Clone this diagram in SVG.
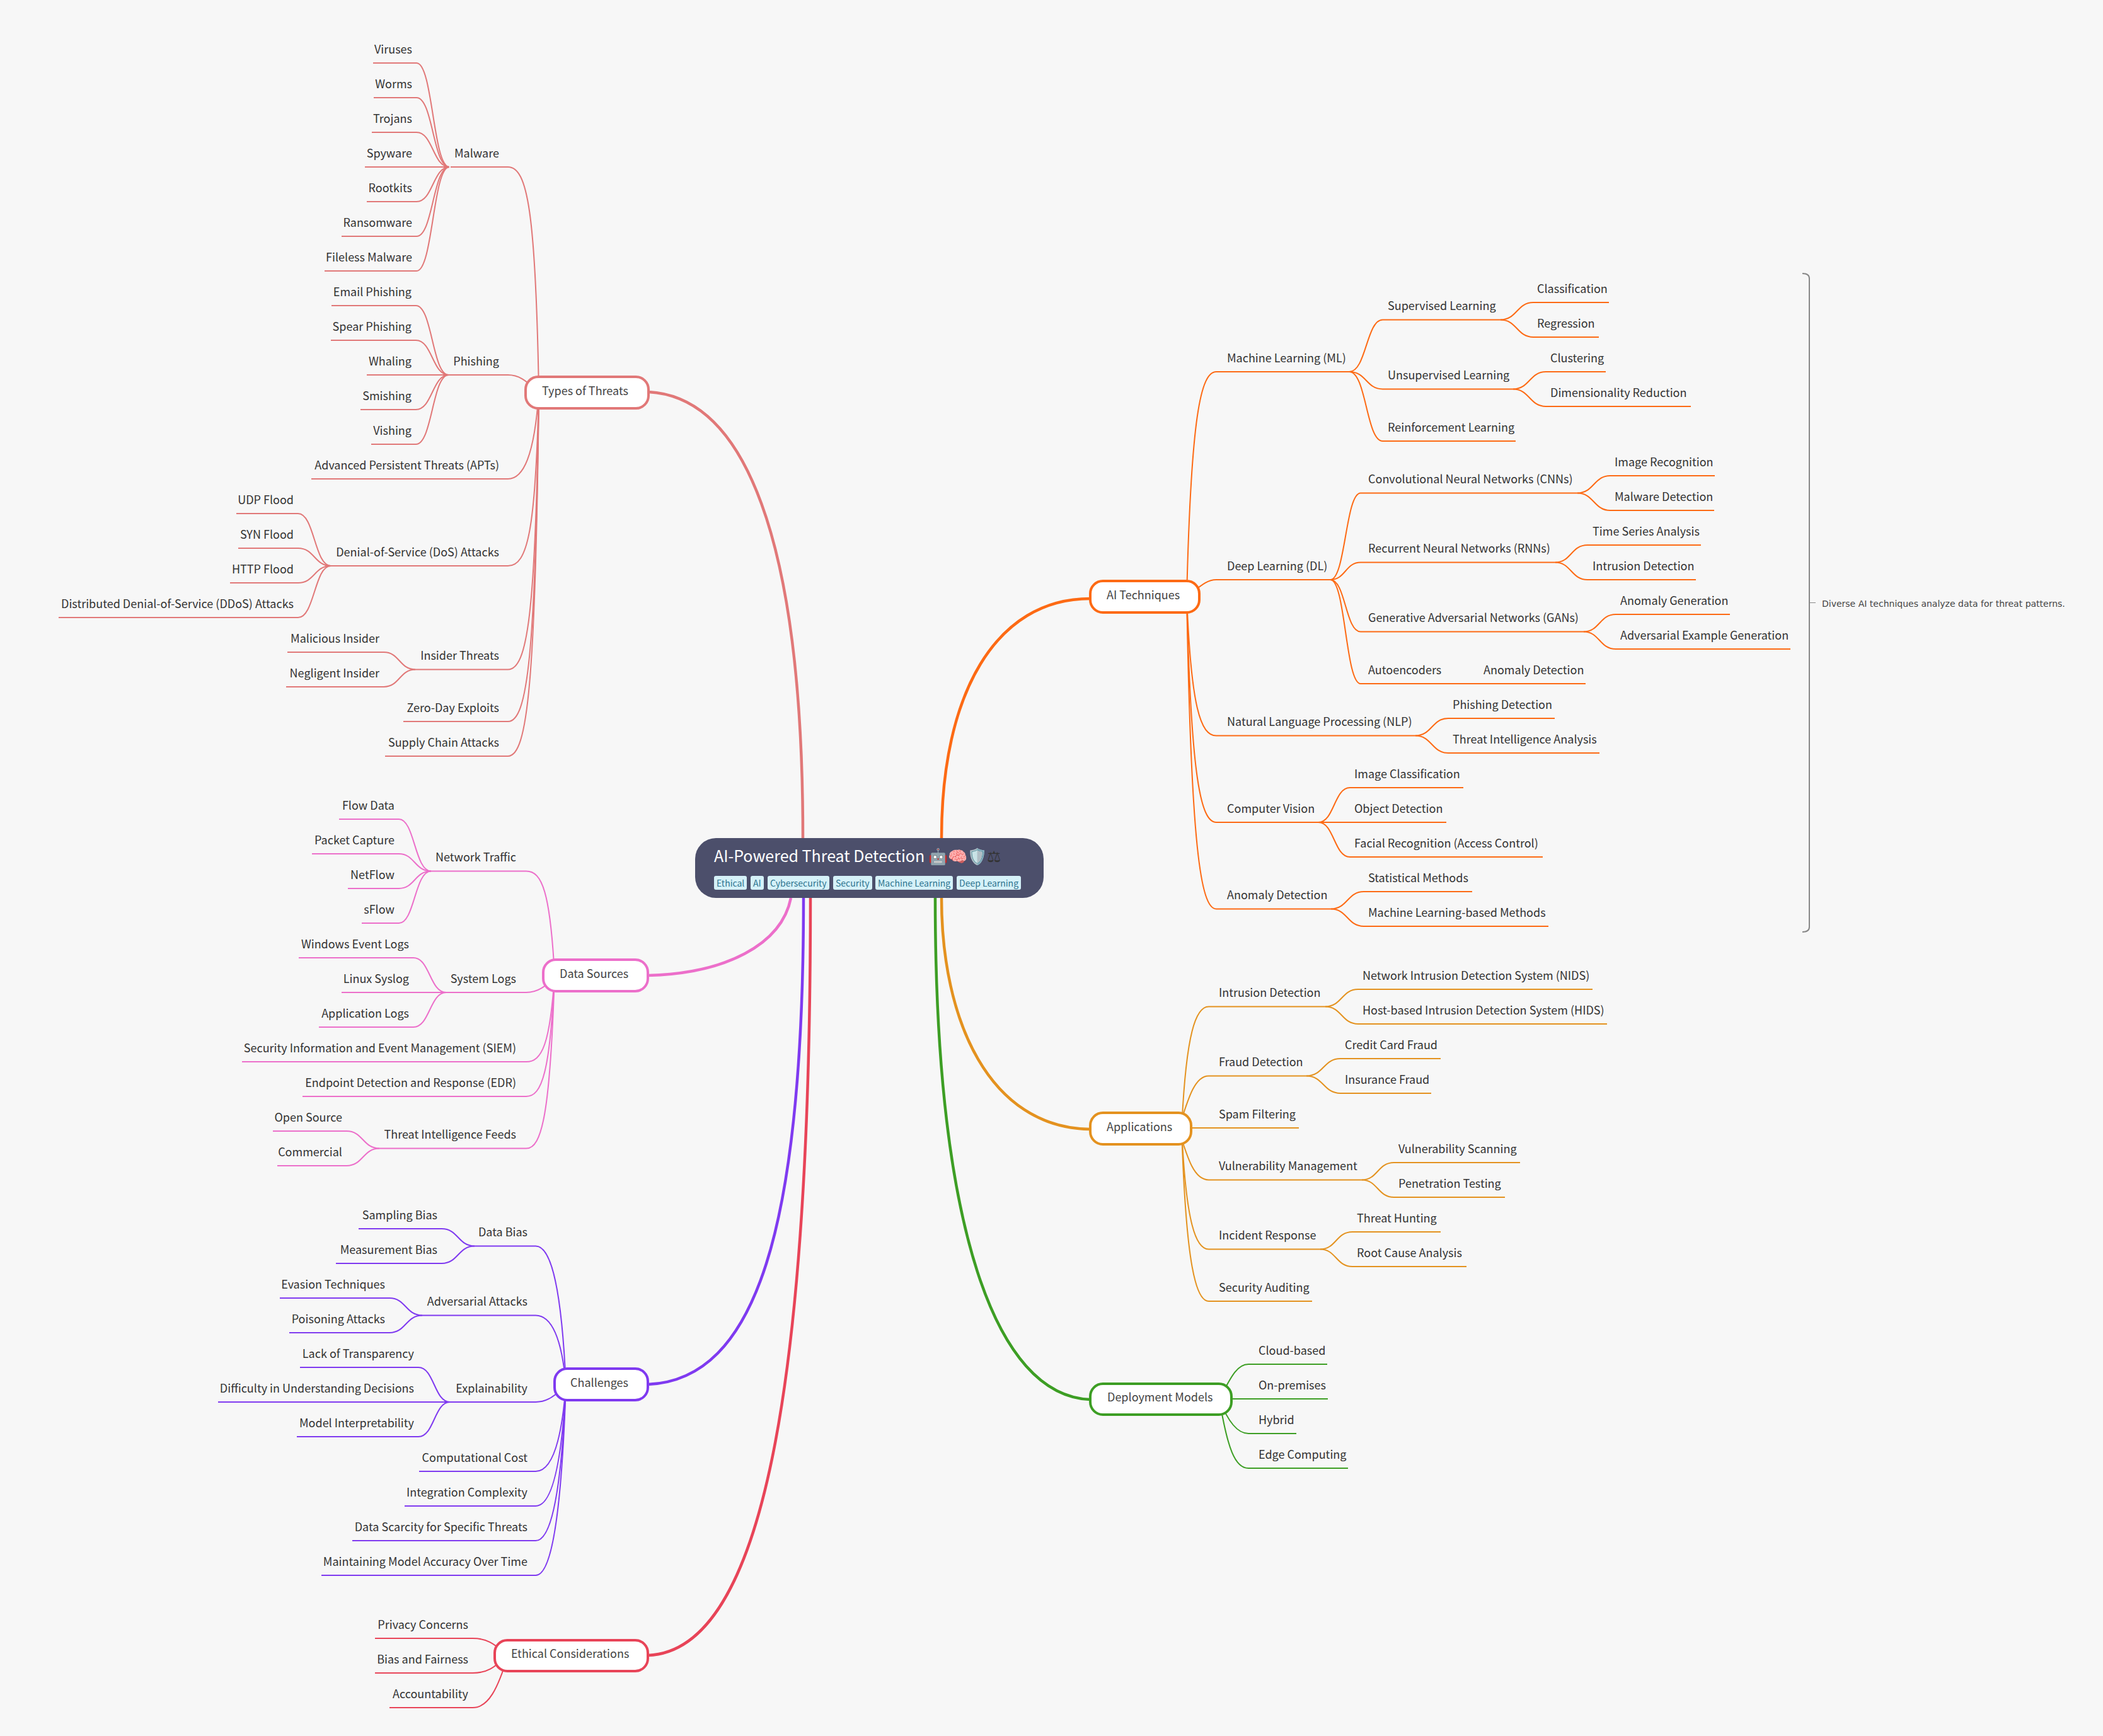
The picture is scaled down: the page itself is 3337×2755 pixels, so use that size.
<svg xmlns="http://www.w3.org/2000/svg" width="3337" height="2755" viewBox="0 0 3337 2755">
<style>
text{font-family:"Noto Sans CJK SC","Noto Sans",sans-serif;font-size:18px;fill:#333}
.l{text-anchor:end}
.k{fill:#444}
path{fill:none;stroke-width:2}
.m{stroke-width:4.500}
.r1{stroke:#e17878}.r2{stroke:#ec6fca}.r3{stroke:#7f3af0}.r4{stroke:#e84458}.r5{stroke:#fd6a14}.r6{stroke:#e4921f}.r7{stroke:#3d9e24}
.b{fill:#fff;stroke-width:4}
.tag{fill:#d5f1f8}
.tt{font-size:14px;fill:#2e7590}
</style>
<rect width="3337" height="2755" fill="#f7f7f7"/>
<g id="connectors">
<g id="main">
<path class="m r1" d="M1029 622C1180 630 1274 850 1274 1330"/>
<path class="m r2" d="M1028 1548C1150 1545 1240 1500 1255 1425"/>
<path class="m r3" d="M1028 2197C1200 2190 1275 1950 1275 1425"/>
<path class="m r4" d="M1028 2627C1210 2620 1286 2200 1286 1425"/>
<path class="m r5" d="M1730 950C1580 950 1494 1100 1494 1330"/>
<path class="m r6" d="M1730 1792C1570 1790 1494 1620 1494 1425"/>
<path class="m r7" d="M1730 2221C1580 2215 1484 1950 1484 1425"/>
</g>
<g class="r1">
<path d="M715 265H806C837 265 850 336 855 622"/>
<path d="M712 595H806C825 595 835 605 855 622"/>
<path d="M494 760H806C830 760 848 725 855 622"/>
<path d="M525 898H806C837 898 850 843 855 622"/>
<path d="M659 1062.500H806C837 1062.500 850 974 855 622"/>
<path d="M640 1145H806C837 1145 850 1040 855 622"/>
<path d="M611 1200H806C837 1200 850 1084 855 622"/>
<path d="M592 100H661C687 100 687 265 713 265"/>
<path d="M593 155H661C687 155 687 265 713 265"/>
<path d="M590 210H661C687 210 687 265 713 265"/>
<path d="M579 265H713"/>
<path d="M582 320H661C687 320 687 265 713 265"/>
<path d="M542 375H661C687 375 687 265 713 265"/>
<path d="M515 430H661C687 430 687 265 713 265"/>
<path d="M526 485H660C686 485 686 595 712 595"/>
<path d="M525 540H660C686 540 686 595 712 595"/>
<path d="M582 595H712"/>
<path d="M572 650H660C686 650 686 595 712 595"/>
<path d="M589 705H660C686 705 686 595 712 595"/>
<path d="M375 815H473C499 815 499 898 525 898"/>
<path d="M378 870H473C499 870 499 898 525 898"/>
<path d="M365 925H473C499 925 499 898 525 898"/>
<path d="M93 980H473C499 980 499 898 525 898"/>
<path d="M456 1035H609C634 1035 634 1062.500 659 1062.500"/>
<path d="M454 1090H609C634 1090 634 1062.500 659 1062.500"/>
</g>
<g class="r2">
<path d="M684 1382.500H835C860 1382.500 873 1415 880 1547"/>
<path d="M708 1575H835C855 1575 865 1565 885 1547"/>
<path d="M384 1685H835C860 1685 873 1657 880 1547"/>
<path d="M480 1740H835C860 1740 873 1701 880 1547"/>
<path d="M602 1822.500H835C860 1822.500 873 1767 880 1547"/>
<path d="M538 1300H633C658 1300 658 1382.500 684 1382.500"/>
<path d="M495 1355H633C658 1355 658 1382.500 684 1382.500"/>
<path d="M552 1410H633C658 1410 658 1382.500 684 1382.500"/>
<path d="M574 1465H633C658 1465 658 1382.500 684 1382.500"/>
<path d="M474 1520H656C682 1520 682 1575 708 1575"/>
<path d="M542 1575H708"/>
<path d="M506 1630H656C682 1630 682 1575 708 1575"/>
<path d="M433 1795H550C576 1795 576 1822.500 602 1822.500"/>
<path d="M440 1850H550C576 1850 576 1822.500 602 1822.500"/>
</g>
<g class="r3">
<path d="M753 1977.500H850C870 1977.500 890 2021 898 2197"/>
<path d="M670 2087.500H850C870 2087.500 890 2109 898 2197"/>
<path d="M714 2225H850C868 2225 875 2218 903 2197"/>
<path d="M665 2335H850C870 2335 890 2307 898 2197"/>
<path d="M642 2390H850C870 2390 890 2351 898 2197"/>
<path d="M559 2445H850C870 2445 890 2395 898 2197"/>
<path d="M510 2500H850C870 2500 890 2440 898 2197"/>
<path d="M569 1950H701C727 1950 727 1977.500 753 1977.500"/>
<path d="M533 2005H701C727 2005 727 1977.500 753 1977.500"/>
<path d="M444 2060H618C644 2060 644 2087.500 670 2087.500"/>
<path d="M459 2115H618C644 2115 644 2087.500 670 2087.500"/>
<path d="M476 2170H664C689 2170 689 2225 714 2225"/>
<path d="M346 2225H714"/>
<path d="M471 2280H664C689 2280 689 2225 714 2225"/>
</g>
<g class="r4">
<path d="M595 2600H750C775 2600 785 2610 806 2627"/>
<path d="M595 2655H750C775 2655 785 2645 806 2627"/>
<path d="M618 2710H750C775 2710 790 2680 806 2627"/>
</g>
<g class="r5">
<path d="M2141 590H1930C1905 590 1890 661 1883 947"/>
<path d="M2111 920H1930C1915 920 1905 930 1883 947"/>
<path d="M2246 1167.500H1930C1905 1167.500 1890 1123 1883 947"/>
<path d="M2092 1305H1930C1905 1305 1890 1233 1883 947"/>
<path d="M2112 1442.500H1930C1905 1442.500 1890 1343 1883 947"/>
<path d="M2381 507.500H2194C2168 507.500 2168 590 2141 590"/>
<path d="M2401 617.500H2194C2168 617.500 2168 590 2141 590"/>
<path d="M2405 700H2194C2168 700 2168 590 2141 590"/>
<path d="M2553 480H2433C2407 480 2407 507.500 2381 507.500"/>
<path d="M2537 535H2433C2407 535 2407 507.500 2381 507.500"/>
<path d="M2548 590H2453C2427 590 2427 617.500 2401 617.500"/>
<path d="M2683 645H2453C2427 645 2427 617.500 2401 617.500"/>
<path d="M2503 782.500H2159C2135 782.500 2135 920 2111 920"/>
<path d="M2468 892.500H2159C2135 892.500 2135 920 2111 920"/>
<path d="M2513 1002.500H2159C2135 1002.500 2135 920 2111 920"/>
<path d="M2516 1085H2159C2135 1085 2135 920 2111 920"/>
<path d="M2721 755H2555C2529 755 2529 782.500 2503 782.500"/>
<path d="M2720 810H2555C2529 810 2529 782.500 2503 782.500"/>
<path d="M2699 865H2519C2493 865 2493 892.500 2468 892.500"/>
<path d="M2691 920H2519C2493 920 2493 892.500 2468 892.500"/>
<path d="M2745 975H2564C2538 975 2538 1002.500 2513 1002.500"/>
<path d="M2841 1030H2564C2538 1030 2538 1002.500 2513 1002.500"/>
<path d="M2467 1140H2298C2272 1140 2272 1167.500 2246 1167.500"/>
<path d="M2538 1195H2298C2272 1195 2272 1167.500 2246 1167.500"/>
<path d="M2322 1250H2142C2117 1250 2117 1305 2092 1305"/>
<path d="M2295 1305H2092"/>
<path d="M2448 1360H2142C2117 1360 2117 1305 2092 1305"/>
<path d="M2336 1415H2164C2138 1415 2138 1442.500 2112 1442.500"/>
<path d="M2457 1470H2164C2138 1470 2138 1442.500 2112 1442.500"/>
</g>
<g class="r6">
<path d="M2103 1597.500H1918C1898 1597.500 1882 1636 1875 1792"/>
<path d="M2073 1707.500H1918C1895 1707.500 1885 1745 1870 1792"/>
<path d="M2061 1790H1875"/>
<path d="M2161 1872.500H1918C1895 1872.500 1885 1840 1870 1792"/>
<path d="M2095 1982.500H1918C1898 1982.500 1882 1944 1875 1792"/>
<path d="M2082 2065H1918C1898 2065 1882 2010 1875 1792"/>
<path d="M2527 1570H2155C2129 1570 2129 1597.500 2103 1597.500"/>
<path d="M2550 1625H2155C2129 1625 2129 1597.500 2103 1597.500"/>
<path d="M2286 1680H2127C2100 1680 2100 1707.500 2073 1707.500"/>
<path d="M2271 1735H2127C2100 1735 2100 1707.500 2073 1707.500"/>
<path d="M2412 1845H2212C2186 1845 2186 1872.500 2161 1872.500"/>
<path d="M2388 1900H2212C2186 1900 2186 1872.500 2161 1872.500"/>
<path d="M2286 1955H2146C2120 1955 2120 1982.500 2095 1982.500"/>
<path d="M2327 2010H2146C2120 2010 2120 1982.500 2095 1982.500"/>
</g>
<g class="r7">
<path d="M2106 2165H1981C1965 2165 1955 2180 1935 2221"/>
<path d="M2107 2220H1935"/>
<path d="M2057 2275H1981C1965 2275 1950 2260 1935 2221"/>
<path d="M2139 2330H1981C1960 2330 1948 2300 1935 2221"/>
</g>
</g>
<g id="note">
<path d="M2860 434C2868 434 2871 437 2871 442V1471C2871 1476 2868 1479 2860 1479" stroke="#888"/>
<path d="M2871 956.500H2881" stroke="#888" style="stroke-width:1"/>
<text x="2891" y="963" style="font-family:'DejaVu Sans',sans-serif;font-size:14px;fill:#444">Diverse AI techniques analyze data for threat patterns.</text>
</g>
<g id="center">
<rect x="1103" y="1330" width="553" height="95" rx="33" fill="#4c4f6b"/>
<text x="1133" y="1368" style="font-size:25px;fill:#fff">AI-Powered Threat Detection 🤖🧠🛡️<tspan fill="#333">⚖</tspan></text>
<g id="tags">
<rect class="tag" x="1133" y="1390" width="52" height="22" rx="3"/><text class="tt" x="1137" y="1407">Ethical</text>
<rect class="tag" x="1191" y="1390" width="21" height="22" rx="3"/><text class="tt" x="1195" y="1407">AI</text>
<rect class="tag" x="1218" y="1390" width="98" height="22" rx="3"/><text class="tt" x="1222" y="1407">Cybersecurity</text>
<rect class="tag" x="1322" y="1390" width="62" height="22" rx="3"/><text class="tt" x="1326" y="1407">Security</text>
<rect class="tag" x="1389" y="1390" width="123" height="22" rx="3"/><text class="tt" x="1393" y="1407">Machine Learning</text>
<rect class="tag" x="1518" y="1390" width="102" height="22" rx="3"/><text class="tt" x="1522" y="1407">Deep Learning</text>
</g>
</g>
<g id="types"><rect class="b r1" x="834" y="598" width="195" height="50" rx="20"/><text class="k" x="860" y="627">Types of Threats</text></g>
<g id="data"><rect class="b r2" x="862" y="1523" width="166" height="50" rx="20"/><text class="k" x="888" y="1552">Data Sources</text></g>
<g id="challenges"><rect class="b r3" x="880" y="2172" width="148" height="50" rx="20"/><text class="k" x="905" y="2201">Challenges</text></g>
<g id="ethical"><rect class="b r4" x="785" y="2603" width="243" height="49" rx="20"/><text class="k" x="811" y="2631">Ethical Considerations</text></g>
<g id="ai"><rect class="b r5" x="1730" y="922" width="173" height="50" rx="20"/><text class="k" x="1756" y="951">AI Techniques</text></g>
<g id="apps"><rect class="b r6" x="1730" y="1766" width="160" height="50" rx="20"/><text class="k" x="1756" y="1795">Applications</text></g>
<g id="deploy"><rect class="b r7" x="1730" y="2196" width="224" height="49" rx="20"/><text class="k" x="1757" y="2224">Deployment Models</text></g>
<g id="labels-left" transform="translate(0,-1)">
<g id="n1"><text class="l" x="792" y="251">Malware</text></g>
<g id="n2"><text class="l" x="654" y="86">Viruses</text></g>
<g id="n3"><text class="l" x="654" y="141">Worms</text></g>
<g id="n4"><text class="l" x="654" y="196">Trojans</text></g>
<g id="n5"><text class="l" x="654" y="251">Spyware</text></g>
<g id="n6"><text class="l" x="654" y="306">Rootkits</text></g>
<g id="n7"><text class="l" x="654" y="361">Ransomware</text></g>
<g id="n8"><text class="l" x="654" y="416">Fileless Malware</text></g>
<g id="n9"><text class="l" x="792" y="581">Phishing</text></g>
<g id="n10"><text class="l" x="653" y="471">Email Phishing</text></g>
<g id="n11"><text class="l" x="653" y="526">Spear Phishing</text></g>
<g id="n12"><text class="l" x="653" y="581">Whaling</text></g>
<g id="n13"><text class="l" x="653" y="636">Smishing</text></g>
<g id="n14"><text class="l" x="653" y="691">Vishing</text></g>
<g id="n15"><text class="l" x="792" y="746">Advanced Persistent Threats (APTs)</text></g>
<g id="n16"><text class="l" x="792" y="884">Denial-of-Service (DoS) Attacks</text></g>
<g id="n17"><text class="l" x="466" y="801">UDP Flood</text></g>
<g id="n18"><text class="l" x="466" y="856">SYN Flood</text></g>
<g id="n19"><text class="l" x="466" y="911">HTTP Flood</text></g>
<g id="n20"><text class="l" x="466" y="966">Distributed Denial-of-Service (DDoS) Attacks</text></g>
<g id="n21"><text class="l" x="792" y="1048">Insider Threats</text></g>
<g id="n22"><text class="l" x="602" y="1021">Malicious Insider</text></g>
<g id="n23"><text class="l" x="602" y="1076">Negligent Insider</text></g>
<g id="n24"><text class="l" x="792" y="1131">Zero-Day Exploits</text></g>
<g id="n25"><text class="l" x="792" y="1186">Supply Chain Attacks</text></g>
<g id="n26"><text class="l" x="819" y="1368">Network Traffic</text></g>
<g id="n27"><text class="l" x="626" y="1286">Flow Data</text></g>
<g id="n28"><text class="l" x="626" y="1341">Packet Capture</text></g>
<g id="n29"><text class="l" x="626" y="1396">NetFlow</text></g>
<g id="n30"><text class="l" x="626" y="1451">sFlow</text></g>
<g id="n31"><text class="l" x="819" y="1561">System Logs</text></g>
<g id="n32"><text class="l" x="649" y="1506">Windows Event Logs</text></g>
<g id="n33"><text class="l" x="649" y="1561">Linux Syslog</text></g>
<g id="n34"><text class="l" x="649" y="1616">Application Logs</text></g>
<g id="n35"><text class="l" x="819" y="1671">Security Information and Event Management (SIEM)</text></g>
<g id="n36"><text class="l" x="819" y="1726">Endpoint Detection and Response (EDR)</text></g>
<g id="n37"><text class="l" x="819" y="1808">Threat Intelligence Feeds</text></g>
<g id="n38"><text class="l" x="543" y="1781">Open Source</text></g>
<g id="n39"><text class="l" x="543" y="1836">Commercial</text></g>
<g id="n40"><text class="l" x="837" y="1963">Data Bias</text></g>
<g id="n41"><text class="l" x="694" y="1936">Sampling Bias</text></g>
<g id="n42"><text class="l" x="694" y="1991">Measurement Bias</text></g>
<g id="n43"><text class="l" x="837" y="2073">Adversarial Attacks</text></g>
<g id="n44"><text class="l" x="611" y="2046">Evasion Techniques</text></g>
<g id="n45"><text class="l" x="611" y="2101">Poisoning Attacks</text></g>
<g id="n46"><text class="l" x="837" y="2211">Explainability</text></g>
<g id="n47"><text class="l" x="657" y="2156">Lack of Transparency</text></g>
<g id="n48"><text class="l" x="657" y="2211">Difficulty in Understanding Decisions</text></g>
<g id="n49"><text class="l" x="657" y="2266">Model Interpretability</text></g>
<g id="n50"><text class="l" x="837" y="2321">Computational Cost</text></g>
<g id="n51"><text class="l" x="837" y="2376">Integration Complexity</text></g>
<g id="n52"><text class="l" x="837" y="2431">Data Scarcity for Specific Threats</text></g>
<g id="n53"><text class="l" x="837" y="2486">Maintaining Model Accuracy Over Time</text></g>
<g id="n54"><text class="l" x="743" y="2586">Privacy Concerns</text></g>
<g id="n55"><text class="l" x="743" y="2641">Bias and Fairness</text></g>
<g id="n56"><text class="l" x="743" y="2696">Accountability</text></g>
</g>
<g id="labels-right" transform="translate(0,-1)">
<g id="n57"><text x="1947" y="576">Machine Learning (ML)</text></g>
<g id="n58"><text x="2202" y="493">Supervised Learning</text></g>
<g id="n59"><text x="2439" y="466">Classification</text></g>
<g id="n60"><text x="2439" y="521">Regression</text></g>
<g id="n61"><text x="2202" y="603">Unsupervised Learning</text></g>
<g id="n62"><text x="2460" y="576">Clustering</text></g>
<g id="n63"><text x="2460" y="631">Dimensionality Reduction</text></g>
<g id="n64"><text x="2202" y="686">Reinforcement Learning</text></g>
<g id="n65"><text x="1947" y="906">Deep Learning (DL)</text></g>
<g id="n66"><text x="2171" y="768">Convolutional Neural Networks (CNNs)</text></g>
<g id="n67"><text x="2562" y="741">Image Recognition</text></g>
<g id="n68"><text x="2562" y="796">Malware Detection</text></g>
<g id="n69"><text x="2171" y="878">Recurrent Neural Networks (RNNs)</text></g>
<g id="n70"><text x="2527" y="851">Time Series Analysis</text></g>
<g id="n71"><text x="2527" y="906">Intrusion Detection</text></g>
<g id="n72"><text x="2171" y="988">Generative Adversarial Networks (GANs)</text></g>
<g id="n73"><text x="2571" y="961">Anomaly Generation</text></g>
<g id="n74"><text x="2571" y="1016">Adversarial Example Generation</text></g>
<g id="n75"><text x="2171" y="1071">Autoencoders</text></g>
<g id="n76"><text x="2354" y="1071">Anomaly Detection</text></g>
<g id="n77"><text x="1947" y="1153">Natural Language Processing (NLP)</text></g>
<g id="n78"><text x="2305" y="1126">Phishing Detection</text></g>
<g id="n79"><text x="2305" y="1181">Threat Intelligence Analysis</text></g>
<g id="n80"><text x="1947" y="1291">Computer Vision</text></g>
<g id="n81"><text x="2149" y="1236">Image Classification</text></g>
<g id="n82"><text x="2149" y="1291">Object Detection</text></g>
<g id="n83"><text x="2149" y="1346">Facial Recognition (Access Control)</text></g>
<g id="n84"><text x="1947" y="1428">Anomaly Detection</text></g>
<g id="n85"><text x="2171" y="1401">Statistical Methods</text></g>
<g id="n86"><text x="2171" y="1456">Machine Learning-based Methods</text></g>
<g id="n87"><text x="1934" y="1583">Intrusion Detection</text></g>
<g id="n88"><text x="2162" y="1556">Network Intrusion Detection System (NIDS)</text></g>
<g id="n89"><text x="2162" y="1611">Host-based Intrusion Detection System (HIDS)</text></g>
<g id="n90"><text x="1934" y="1693">Fraud Detection</text></g>
<g id="n91"><text x="2134" y="1666">Credit Card Fraud</text></g>
<g id="n92"><text x="2134" y="1721">Insurance Fraud</text></g>
<g id="n93"><text x="1934" y="1776">Spam Filtering</text></g>
<g id="n94"><text x="1934" y="1858">Vulnerability Management</text></g>
<g id="n95"><text x="2219" y="1831">Vulnerability Scanning</text></g>
<g id="n96"><text x="2219" y="1886">Penetration Testing</text></g>
<g id="n97"><text x="1934" y="1968">Incident Response</text></g>
<g id="n98"><text x="2153" y="1941">Threat Hunting</text></g>
<g id="n99"><text x="2153" y="1996">Root Cause Analysis</text></g>
<g id="n100"><text x="1934" y="2051">Security Auditing</text></g>
<g id="n101"><text x="1997" y="2151">Cloud-based</text></g>
<g id="n102"><text x="1997" y="2206">On-premises</text></g>
<g id="n103"><text x="1997" y="2261">Hybrid</text></g>
<g id="n104"><text x="1997" y="2316">Edge Computing</text></g>
</g>
</svg>
